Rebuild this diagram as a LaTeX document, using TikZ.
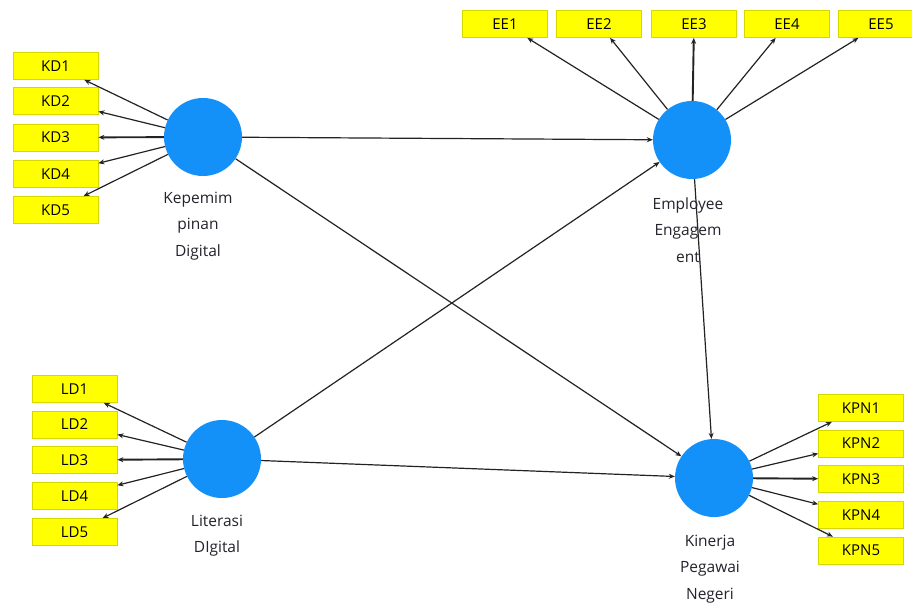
\documentclass[tikz,border=0pt]{standalone}
\usepackage{fontspec}
\setmainfont{Open Sans}
\usetikzlibrary{arrows.meta}
\definecolor{lvblue}{RGB}{20,145,248}
\definecolor{indyel}{RGB}{255,255,0}
\definecolor{indbord}{RGB}{215,215,0}
\definecolor{linegray}{RGB}{35,35,35}
\definecolor{labgray}{RGB}{35,35,45}
\tikzset{
  latent/.style={circle, fill=lvblue, draw=none, minimum size=78pt, inner sep=0pt},
  indbox/.style={rectangle, fill=indyel, draw=indbord, line width=0.8pt, minimum width=85pt, minimum height=27pt, inner sep=0pt, font=\fontsize{15}{17}\selectfont, text=black},
  lvlabel/.style={align=center, font=\fontsize{15.5}{26.5}\selectfont, text=labgray, inner sep=0pt},
  conn/.style={draw=linegray, line width=1.2pt, -{Stealth[length=6pt,width=5pt]}},
  connmid/.style={conn, line width=1.9pt},
}
\begin{document}
\begin{tikzpicture}[x=1pt,y=-1pt]
\useasboundingbox (0,0) rectangle (912,606);
\clip (0,0) rectangle (912,606);
\fill[white] (0,0) rectangle (912,606);
% latent variables
\node[latent] (KD) at (203,137) {};
\node[latent] (EE) at (692,140) {};
\node[latent] (LD) at (222,459) {};
\node[latent] (KPN) at (714,478) {};
% labels
\node[lvlabel] (KDl) at (198,226) {Kepemim\\pinan\\Digital};
\node[lvlabel] (EEl) at (688,230) {Employee\\Engagem\\ent};
\node[lvlabel] (LDl) at (217,535.5) {Literasi\\DIgital};
\node[lvlabel] (KPNl) at (710,569) {Kinerja\\Pegawai\\Negeri};
% indicators KD
\node[indbox] (KD1) at (55.5,66) {KD1};
\node[indbox] (KD2) at (55.5,101) {KD2};
\node[indbox] (KD3) at (55.5,137.5) {KD3};
\node[indbox] (KD4) at (55.5,174) {KD4};
\node[indbox] (KD5) at (55.5,210) {KD5};
% indicators EE
\node[indbox] (EE1) at (505,24) {EE1};
\node[indbox] (EE2) at (599,24) {EE2};
\node[indbox] (EE3) at (694,24) {EE3};
\node[indbox] (EE4) at (787,24) {EE4};
\node[indbox] (EE5) at (881,24) {EE5};
% indicators LD
\node[indbox] (LD1) at (74.5,389) {LD1};
\node[indbox] (LD2) at (74.5,424.5) {LD2};
\node[indbox] (LD3) at (74.5,460) {LD3};
\node[indbox] (LD4) at (74.5,496) {LD4};
\node[indbox] (LD5) at (74.5,532) {LD5};
% indicators KPN
\node[indbox] (KPN1) at (861,408) {KPN1};
\node[indbox] (KPN2) at (861,443.5) {KPN2};
\node[indbox] (KPN3) at (861,479) {KPN3};
\node[indbox] (KPN4) at (861,515) {KPN4};
\node[indbox] (KPN5) at (861,550.5) {KPN5};
% outer model arrows
\draw[conn] (KD) -- (KD1);
\draw[conn] (KD) -- (KD2);
\draw[connmid] (KD) -- (KD3);
\draw[conn] (KD) -- (KD4);
\draw[conn] (KD) -- (KD5);
\draw[conn] (EE) -- (EE1);
\draw[conn] (EE) -- (EE2);
\draw[connmid] (EE) -- (EE3);
\draw[conn] (EE) -- (EE4);
\draw[conn] (EE) -- (EE5);
\draw[conn] (LD) -- (LD1);
\draw[conn] (LD) -- (LD2);
\draw[connmid] (LD) -- (LD3);
\draw[conn] (LD) -- (LD4);
\draw[conn] (LD) -- (LD5);
\draw[conn] (KPN) -- (KPN1);
\draw[conn] (KPN) -- (KPN2);
\draw[connmid] (KPN) -- (KPN3);
\draw[conn] (KPN) -- (KPN4);
\draw[conn] (KPN) -- (KPN5);
% inner model arrows
\draw[conn] (KD) -- (EE);
\draw[conn] (KD) -- (KPN);
\draw[conn] (LD) -- (EE);
\draw[conn] (LD) -- (KPN);
\draw[conn] (EE) -- (KPN);
\end{tikzpicture}
\end{document}
